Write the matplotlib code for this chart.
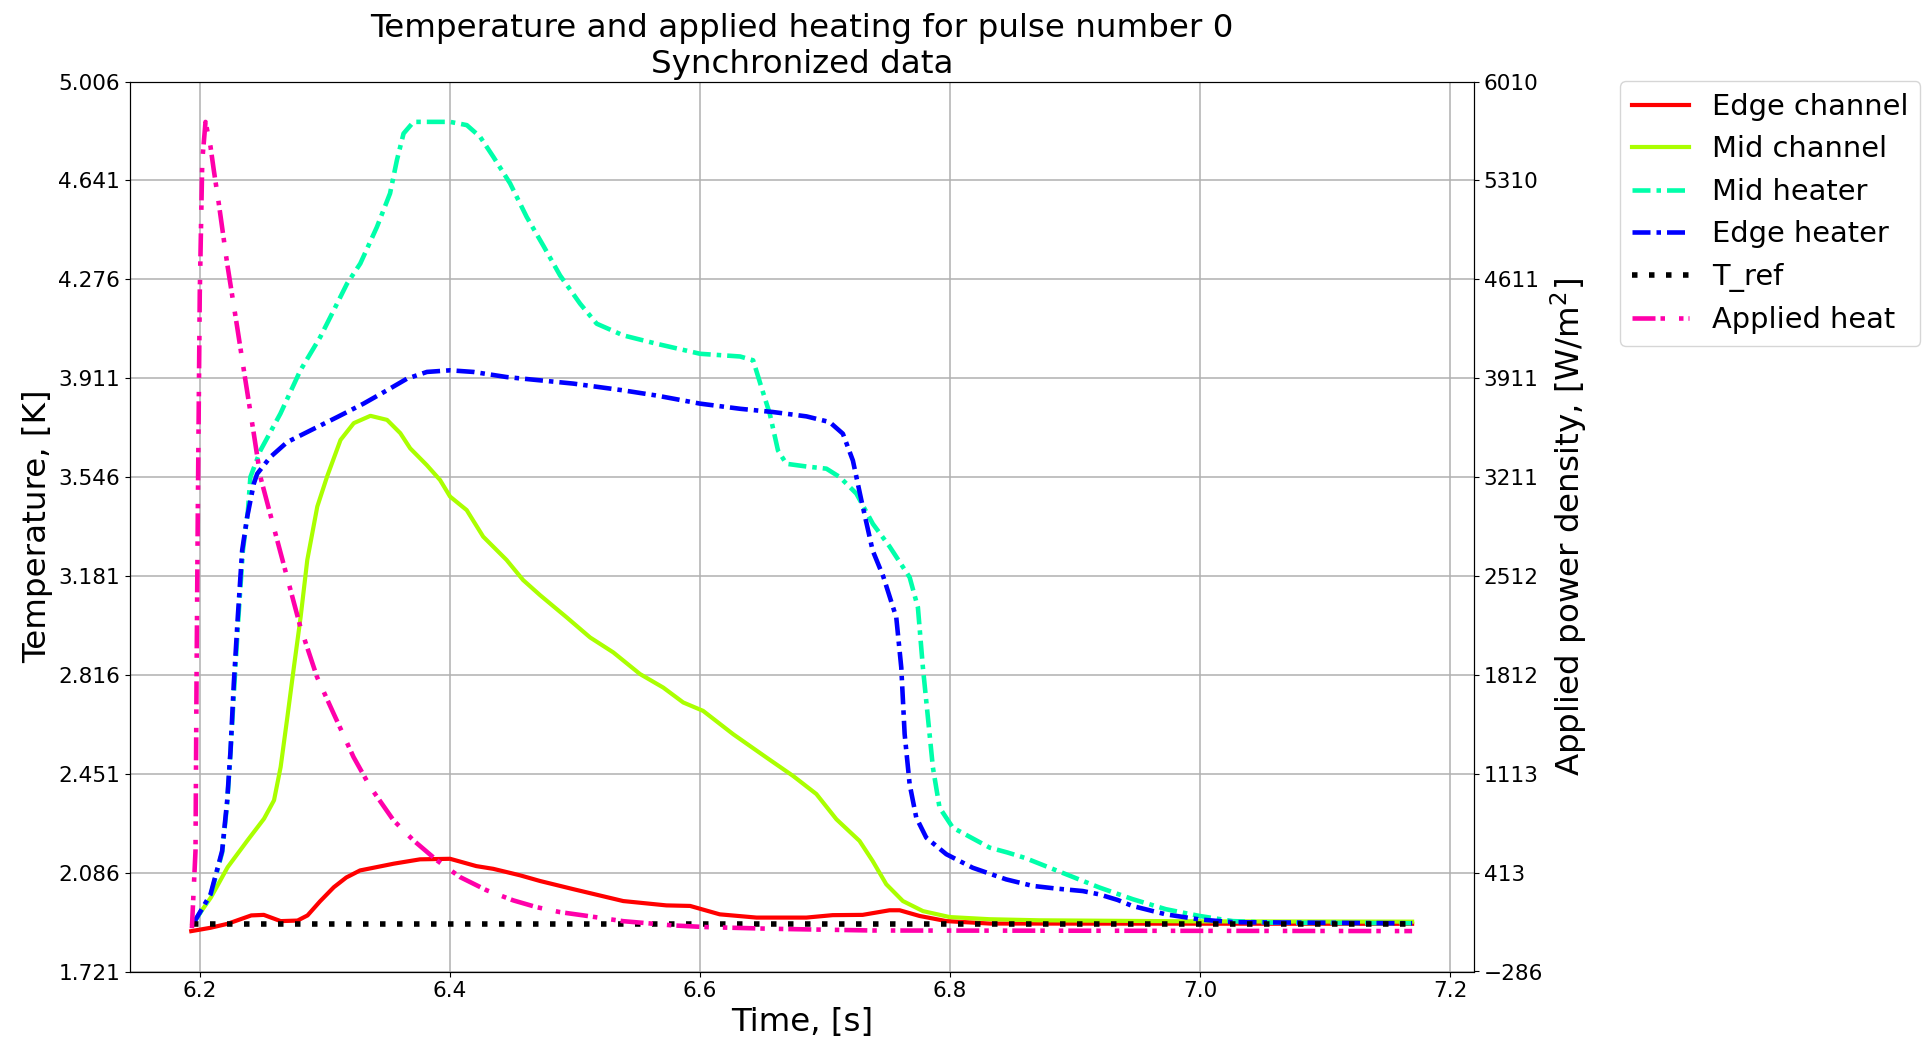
import numpy as np
import matplotlib
matplotlib.use("Agg")
import matplotlib.pyplot as plt

plt.rcParams['font.family'] = ['DejaVu Sans']
plt.rcParams['lines.scale_dashes'] = False

# ---------------- data ----------------
edge_channel_t = [6.193, 6.208, 6.222, 6.241, 6.251, 6.2645, 6.278, 6.286, 6.296, 6.307,
                  6.317, 6.328, 6.355, 6.376, 6.400, 6.421, 6.4345, 6.456, 6.472, 6.4985,
                  6.5385, 6.573, 6.592, 6.6157, 6.6451, 6.685, 6.706, 6.730, 6.7515, 6.7596,
                  6.7755, 6.797, 6.8315, 7.1695]
edge_channel_T = [1.870, 1.882, 1.897, 1.928, 1.930, 1.907, 1.909, 1.928, 1.980, 2.032,
                  2.068, 2.094, 2.119, 2.135, 2.137, 2.110, 2.100, 2.076, 2.055, 2.025,
                  1.981, 1.965, 1.963, 1.932, 1.920, 1.920, 1.929, 1.930, 1.947, 1.947,
                  1.926, 1.907, 1.898, 1.897]

mid_channel_t = [6.194, 6.2088, 6.2221, 6.238, 6.2512, 6.2592, 6.2645, 6.2699, 6.2751, 6.2805,
                 6.2858, 6.2938, 6.3018, 6.3124, 6.323, 6.3363, 6.3496, 6.3602, 6.3681, 6.3814,
                 6.392, 6.400, 6.4133, 6.4265, 6.4452, 6.4584, 6.472, 6.4933, 6.512, 6.5305,
                 6.5519, 6.5705, 6.5865, 6.6024, 6.6264, 6.653, 6.6743, 6.693, 6.709, 6.7275,
                 6.738, 6.7489, 6.7622, 6.7782, 6.7995, 6.8315, 6.8713, 7.000, 7.1695]
mid_channel_T = [1.897, 1.995, 2.106, 2.205, 2.285, 2.353, 2.476, 2.661, 2.845, 3.030,
                 3.240, 3.437, 3.550, 3.683, 3.745, 3.772, 3.757, 3.708, 3.652, 3.590,
                 3.535, 3.474, 3.424, 3.326, 3.240, 3.166, 3.110, 3.028, 2.954, 2.899,
                 2.819, 2.769, 2.714, 2.683, 2.597, 2.511, 2.443, 2.376, 2.283, 2.203,
                 2.129, 2.043, 1.981, 1.944, 1.922, 1.914, 1.910, 1.906, 1.905]

mid_heater_t = [6.194, 6.2084, 6.2177, 6.2217, 6.2244, 6.2275, 6.2307, 6.2343, 6.2383, 6.2403,
                6.2483, 6.2643, 6.2803, 6.2962, 6.3069, 6.3176, 6.3282, 6.3415, 6.352, 6.3575,
                6.3628, 6.3708, 6.400, 6.4134, 6.424, 6.4346, 6.448, 6.4613, 6.4746, 6.488,
                6.504, 6.5173, 6.5385, 6.5652, 6.600, 6.632, 6.6424, 6.649, 6.6557, 6.6623,
                6.669, 6.685, 6.701, 6.7117, 6.725, 6.7382, 6.7515, 6.7676, 6.7742, 6.7782,
                6.7822, 6.7862, 6.7915, 6.8021, 6.8317, 6.846, 6.860, 6.8927, 6.9194, 6.946,
                6.9725, 6.9995, 7.026, 7.060, 7.1695]
mid_heater_T = [1.893, 2.000, 2.160, 2.340, 2.530, 2.780, 3.028, 3.275, 3.420, 3.546,
                3.644, 3.780, 3.940, 4.063, 4.161, 4.260, 4.334, 4.469, 4.593, 4.716,
                4.814, 4.857, 4.857, 4.845, 4.802, 4.728, 4.630, 4.506, 4.400, 4.290,
                4.186, 4.112, 4.069, 4.038, 4.001, 3.991, 3.977, 3.878, 3.780, 3.644,
                3.595, 3.585, 3.577, 3.546, 3.485, 3.373, 3.290, 3.176, 3.065, 2.843,
                2.659, 2.474, 2.326, 2.252, 2.178, 2.160, 2.140, 2.080, 2.031, 1.988,
                1.951, 1.926, 1.907, 1.901, 1.899]

edge_heater_t = [6.194, 6.2084, 6.2177, 6.2217, 6.2244, 6.227, 6.2302, 6.2337, 6.2377, 6.243,
                 6.2457, 6.2563, 6.2697, 6.2883, 6.3096, 6.3308, 6.3495, 6.3655, 6.3815, 6.400,
                 6.4187, 6.4454, 6.472, 6.4985, 6.5385, 6.565, 6.600, 6.632, 6.6583, 6.685,
                 6.7036, 6.7142, 6.7222, 6.729, 6.738, 6.7465, 6.7569, 6.7609, 6.7636, 6.7676,
                 6.7729, 6.7809, 6.7969, 6.818, 6.8448, 6.866, 6.885, 6.906, 6.919, 6.934,
                 6.9457, 6.9725, 6.9995, 7.026, 7.1695]
edge_heater_T = [1.893, 2.006, 2.166, 2.351, 2.536, 2.782, 3.028, 3.275, 3.398, 3.521,
                 3.558, 3.620, 3.675, 3.718, 3.767, 3.817, 3.866, 3.909, 3.934, 3.940,
                 3.934, 3.915, 3.903, 3.891, 3.866, 3.847, 3.817, 3.798, 3.786, 3.770,
                 3.749, 3.706, 3.607, 3.460, 3.275, 3.179, 3.028, 2.843, 2.597, 2.412,
                 2.289, 2.215, 2.154, 2.104, 2.061, 2.037, 2.027, 2.018, 2.006, 1.985,
                 1.963, 1.932, 1.913, 1.903, 1.899]

t_ref_t = [6.194, 7.1695]
t_ref_T = [1.898, 1.898]

heat_t = [6.1935, 6.1964, 6.1972, 6.1982, 6.1998, 6.2018, 6.2044, 6.2084, 6.211, 6.215,
          6.2217, 6.2297, 6.2363, 6.243, 6.2483, 6.2589, 6.2696, 6.2803, 6.2936, 6.3069,
          6.3228, 6.3362, 6.3548, 6.3708, 6.3895, 6.408, 6.4294, 6.4506, 6.4693, 6.488,
          6.5066, 6.5385, 6.5784, 6.6051, 6.6583, 6.7382, 7.1695]
heat_P = [20, 570, 1750, 2930, 4510, 5450, 5724, 5549, 5384, 5148,
          4723, 4274, 3897, 3520, 3213, 2859, 2505, 2151, 1797, 1538,
          1231, 1019, 783, 641, 500, 382, 288, 217, 169, 134,
          111, 70, 40, 28, 16, 4, 0]

left_tick_labels = ['1.721', '2.086', '2.451', '2.816', '3.181', '3.546', '3.911', '4.276', '4.641', '5.006']
right_tick_labels = ['\u2212286', '413', '1113', '1812', '2512', '3211', '3911', '4611', '5310', '6010']

# ---------------- figure ----------------
fig = plt.figure(figsize=(19.3, 10.43), dpi=100)
ax = fig.add_axes([130/1930, 1 - 971.5/1043, 1344/1930, 890/1043])
ax2 = ax.twinx()

lw = 3
px = 1/1.3889
dashdot = (0, (18*px, 6*px, 4.5*px, 6*px))
heat_ls = (0, (23*px, 5*px, 4.5*px, 14*px, 4.5*px, 5*px))
dotted = (0, (5.5*px, 11.5*px))

l1, = ax.plot(edge_channel_t, edge_channel_T, color='#ff0000', lw=lw, label='Edge channel')
l2, = ax.plot(mid_channel_t, mid_channel_T, color='#aaff00', lw=lw, label='Mid channel')
l3, = ax.plot(mid_heater_t, mid_heater_T, color='#00ffaa', lw=3.3, ls=dashdot, label='Mid heater')
l4, = ax.plot(edge_heater_t, edge_heater_T, color='#0000ff', lw=3.3, ls=dashdot, label='Edge heater')
l5, = ax.plot(t_ref_t, t_ref_T, color='black', lw=4, ls=dotted, label='T_ref')
l6, = ax2.plot(heat_t, heat_P, color='#ff00aa', lw=3.3, ls=heat_ls, label='Applied heat')

ax.set_xlim(6.144, 7.219)
ax.set_ylim(1.721, 5.006)
ax2.set_ylim(-286, 6010)

ax.set_yticks(np.linspace(1.721, 5.006, len(left_tick_labels)))
ax.set_yticklabels(left_tick_labels)
ax2.set_yticks(np.linspace(-286, 6010, len(right_tick_labels)))
ax2.set_yticklabels(right_tick_labels)

ax.tick_params(labelsize=15.6)
ax2.tick_params(labelsize=15.6)
ax.grid(True, color='#b0b0b0', lw=1.1)

ax.set_xlabel('Time, [s]', fontsize=23.4)
ax.set_ylabel('Temperature, [K]', fontsize=23.4)
ax2.set_ylabel('Applied power density, [W/m$^2$]', fontsize=23.4)
ax.set_title('Temperature and applied heating for pulse number 0\nSynchronized data', fontsize=23.4)

handles = [l1, l2, l3, l4, l5, l6]
ax2.legend(handles, [h.get_label() for h in handles], loc='upper left',
           bbox_to_anchor=(1.1086, 1.0), borderaxespad=0, fontsize=20.8)

fig.savefig('out.png', dpi=100)
